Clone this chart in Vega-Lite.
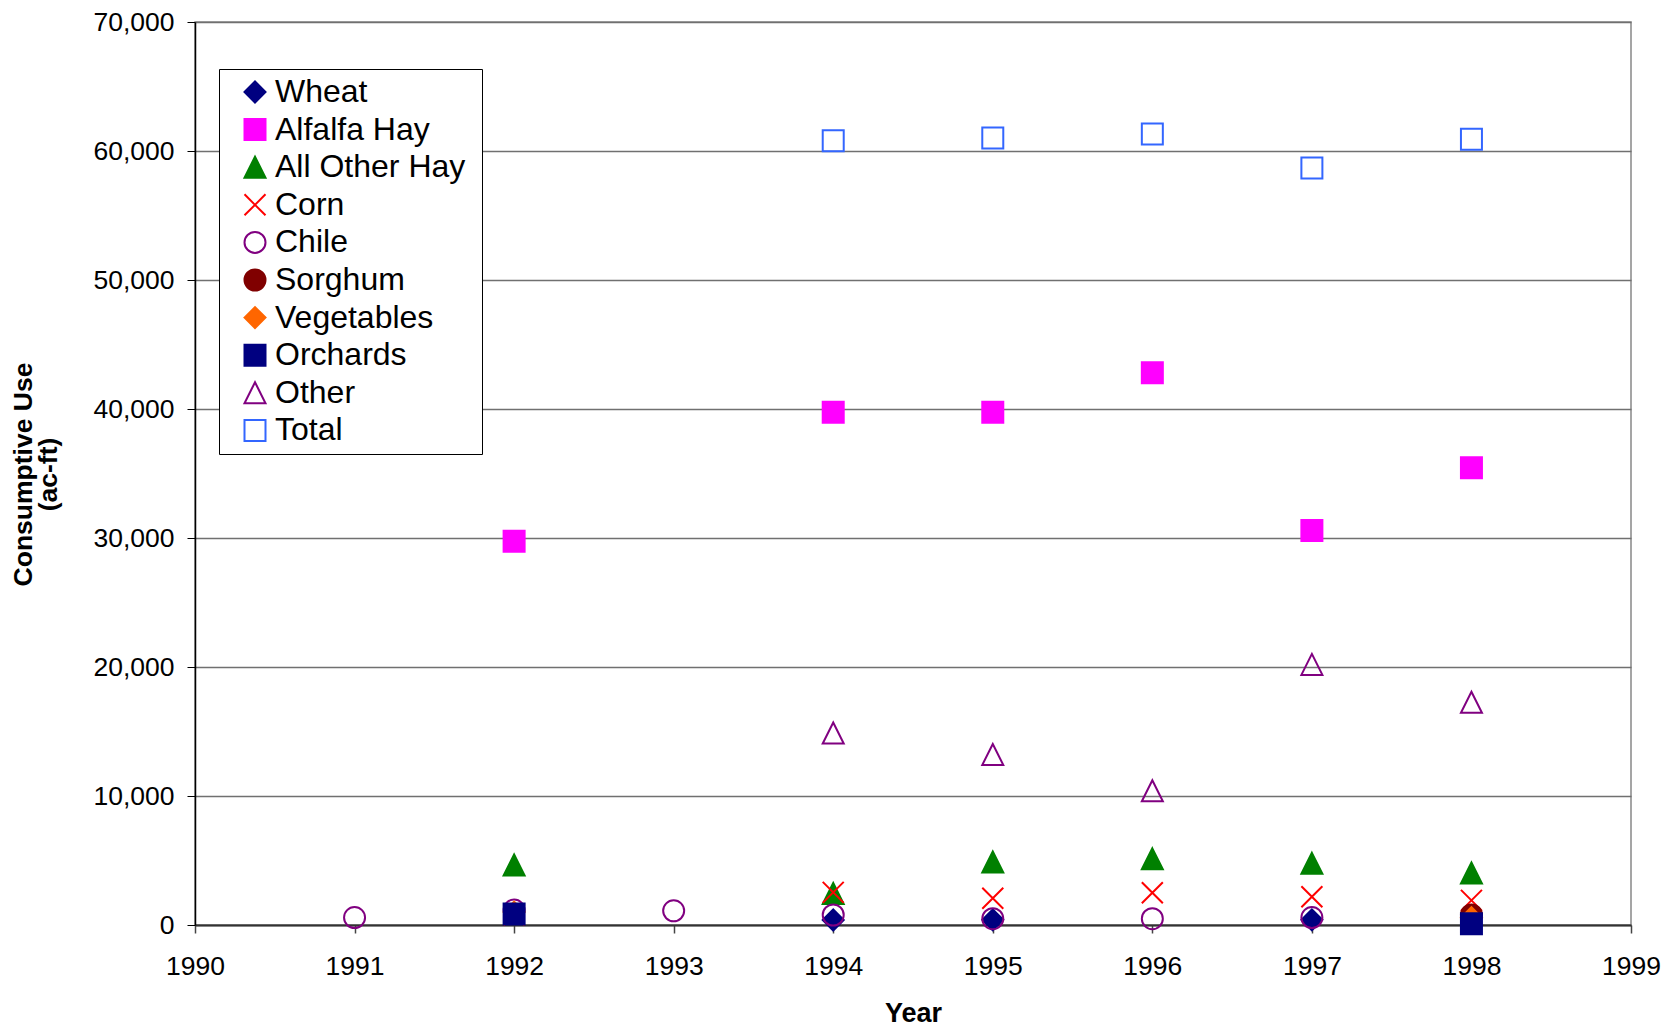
{
  "$schema": "https://vega.github.io/schema/vega-lite/v6.json",
  "width": 1436,
  "height": 903,
  "autosize": {"type": "none"},
  "padding": {"left": 195, "top": 22, "right": 42, "bottom": 102},
  "background": "white",
  "config": {
    "font": "Liberation Sans",
    "view": {"stroke": "#888888", "strokeWidth": 1.5}
  },
  "data": {
    "values": [
      {"series": "Wheat", "year": 1994, "value": 390},
      {"series": "Wheat", "year": 1995, "value": 400},
      {"series": "Wheat", "year": 1997, "value": 400},
      {"series": "Alfalfa Hay", "year": 1992, "value": 29750},
      {"series": "Alfalfa Hay", "year": 1994, "value": 39750},
      {"series": "Alfalfa Hay", "year": 1995, "value": 39750},
      {"series": "Alfalfa Hay", "year": 1996, "value": 42810},
      {"series": "Alfalfa Hay", "year": 1997, "value": 30580},
      {"series": "Alfalfa Hay", "year": 1998, "value": 35450},
      {"series": "All Other Hay", "year": 1992, "value": 4650},
      {"series": "All Other Hay", "year": 1994, "value": 2450},
      {"series": "All Other Hay", "year": 1995, "value": 4880},
      {"series": "All Other Hay", "year": 1996, "value": 5130},
      {"series": "All Other Hay", "year": 1997, "value": 4780},
      {"series": "All Other Hay", "year": 1998, "value": 4030},
      {"series": "Corn", "year": 1992, "value": 800},
      {"series": "Corn", "year": 1994, "value": 2530},
      {"series": "Corn", "year": 1995, "value": 2070},
      {"series": "Corn", "year": 1996, "value": 2500},
      {"series": "Corn", "year": 1997, "value": 2190},
      {"series": "Corn", "year": 1998, "value": 1910},
      {"series": "Chile", "year": 1991, "value": 580},
      {"series": "Chile", "year": 1992, "value": 1160},
      {"series": "Chile", "year": 1993, "value": 1100},
      {"series": "Chile", "year": 1994, "value": 775},
      {"series": "Chile", "year": 1995, "value": 490},
      {"series": "Chile", "year": 1996, "value": 490},
      {"series": "Chile", "year": 1997, "value": 580},
      {"series": "Sorghum", "year": 1998, "value": 775},
      {"series": "Vegetables", "year": 1992, "value": 1000},
      {"series": "Vegetables", "year": 1998, "value": 570},
      {"series": "Orchards", "year": 1992, "value": 850},
      {"series": "Orchards", "year": 1998, "value": 100},
      {"series": "Other", "year": 1994, "value": 14880},
      {"series": "Other", "year": 1995, "value": 13220},
      {"series": "Other", "year": 1996, "value": 10410},
      {"series": "Other", "year": 1997, "value": 20200},
      {"series": "Other", "year": 1998, "value": 17270},
      {"series": "Total", "year": 1994, "value": 60790},
      {"series": "Total", "year": 1995, "value": 61000},
      {"series": "Total", "year": 1996, "value": 61320},
      {"series": "Total", "year": 1997, "value": 58680},
      {"series": "Total", "year": 1998, "value": 60910}
    ]
  },
  "mark": {"type": "point", "opacity": 1, "strokeWidth": 2, "size": 441},
  "encoding": {
    "x": {
      "field": "year",
      "type": "quantitative",
      "scale": {"domain": [1990, 1999], "nice": false, "zero": false},
      "axis": {
        "values": [1990, 1991, 1992, 1993, 1994, 1995, 1996, 1997, 1998, 1999],
        "format": "d",
        "grid": false,
        "tickSize": 8,
        "tickColor": "#444444",
        "tickWidth": 1.5,
        "domainColor": "#333333",
        "domainWidth": 2,
        "labelFontSize": 26.5,
        "labelColor": "#000000",
        "labelPadding": 20,
        "labelFlush": false,
        "title": "Year",
        "titleFontSize": 27,
        "titleFontWeight": "bold",
        "titleColor": "#000000",
        "titleBaseline": "top",
        "titleY": 75
      }
    },
    "y": {
      "field": "value",
      "type": "quantitative",
      "scale": {"domain": [0, 70000], "nice": false},
      "axis": {
        "values": [0, 10000, 20000, 30000, 40000, 50000, 60000, 70000],
        "format": ",d",
        "grid": true,
        "gridColor": "#707070",
        "gridWidth": 1.5,
        "tickSize": 8,
        "tickColor": "#000000",
        "domainColor": "#000000",
        "domainWidth": 1.5,
        "labelFontSize": 26.5,
        "labelColor": "#000000",
        "labelPadding": 13,
        "labelFlush": false,
        "title": ["Consumptive Use", "(ac-ft)"],
        "titleFontSize": 26.5,
        "titleLineHeight": 25,
        "titleFontWeight": "bold",
        "titleColor": "#000000",
        "titleAngle": -90,
        "titleAlign": "center",
        "titleBaseline": "bottom",
        "titleX": -158,
        "titleY": 452
      }
    },
    "shape": {
      "field": "series",
      "type": "nominal",
      "sort": null,
      "scale": {
        "domain": ["Wheat", "Alfalfa Hay", "All Other Hay", "Corn", "Chile", "Sorghum", "Vegetables", "Orchards", "Other", "Total"],
        "range": ["diamond", "square", "M0,-1L1,1L-1,1Z", "M-1,-1L1,1M-1,1L1,-1", "circle", "circle", "diamond", "square", "M0,-1L1,1L-1,1Z", "square"]
      },
      "legend": {
        "title": null,
        "orient": "none",
        "legendX": 24,
        "legendY": 47,
        "padding": 7,
        "symbolOffset": 13,
        "symbolSize": 441,
        "symbolStrokeWidth": 2,
        "labelFontSize": 32,
        "labelColor": "#000000",
        "labelOffset": 4,
        "labelLimit": 400,
        "labelExpr": "datum.label + ' \u200b'",
        "rowPadding": 5.6,
        "strokeColor": "#000000",
        "fillColor": "#ffffff"
      }
    },
    "stroke": {
      "field": "series",
      "type": "nominal",
      "sort": null,
      "scale": {
        "domain": ["Wheat", "Alfalfa Hay", "All Other Hay", "Corn", "Chile", "Sorghum", "Vegetables", "Orchards", "Other", "Total"],
        "range": ["#000080", "#FF00FF", "#008000", "#FF0000", "#800080", "#800000", "#FF6600", "#000080", "#800080", "#3366FF"]
      },
      "legend": {
        "title": null,
        "orient": "none",
        "legendX": 24,
        "legendY": 47,
        "padding": 7,
        "symbolOffset": 13,
        "symbolSize": 441,
        "symbolStrokeWidth": 2,
        "labelFontSize": 32,
        "labelColor": "#000000",
        "labelOffset": 4,
        "labelLimit": 400,
        "labelExpr": "datum.label + ' \u200b'",
        "rowPadding": 5.6,
        "strokeColor": "#000000",
        "fillColor": "#ffffff"
      }
    },
    "fill": {
      "field": "series",
      "type": "nominal",
      "sort": null,
      "scale": {
        "domain": ["Wheat", "Alfalfa Hay", "All Other Hay", "Corn", "Chile", "Sorghum", "Vegetables", "Orchards", "Other", "Total"],
        "range": ["#000080", "#FF00FF", "#008000", "transparent", "transparent", "#800000", "#FF6600", "#000080", "transparent", "transparent"]
      },
      "legend": {
        "title": null,
        "orient": "none",
        "legendX": 24,
        "legendY": 47,
        "padding": 7,
        "symbolOffset": 13,
        "symbolSize": 441,
        "symbolStrokeWidth": 2,
        "labelFontSize": 32,
        "labelColor": "#000000",
        "labelOffset": 4,
        "labelLimit": 400,
        "labelExpr": "datum.label + ' \u200b'",
        "rowPadding": 5.6,
        "strokeColor": "#000000",
        "fillColor": "#ffffff"
      }
    }
  }
}
